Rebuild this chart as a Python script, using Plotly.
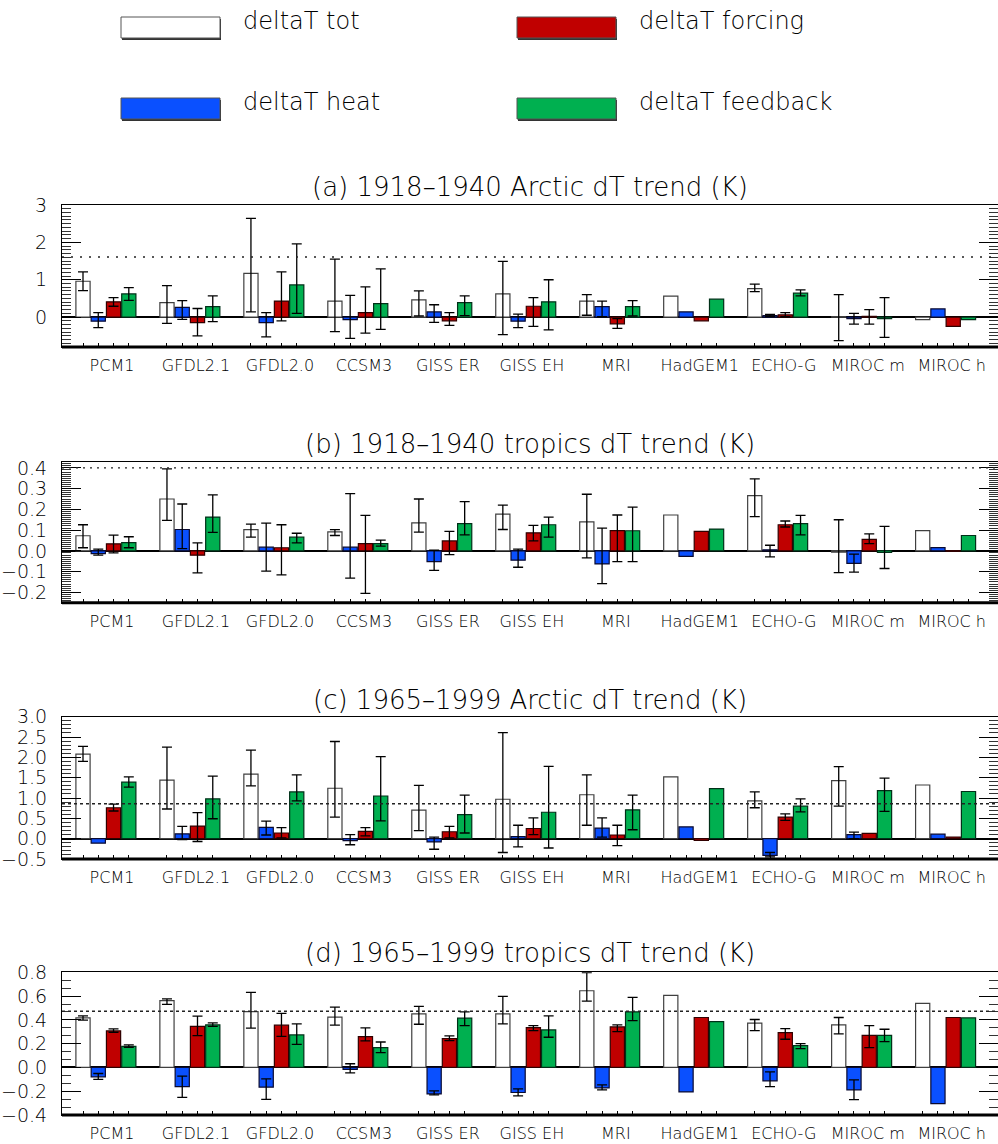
import plotly.graph_objects as go

# ---------------- data ----------------
models = ["PCM1", "GFDL2.1", "GFDL2.0", "CCSM3", "GISS ER", "GISS EH",
          "MRI", "HadGEM1", "ECHO-G", "MIROC m", "MIROC h"]
series_names = ["deltaT tot", "deltaT heat", "deltaT forcing", "deltaT feedback"]

# (a) 1918-1940 Arctic
a_tot = [0.96, 0.39, 1.17, 0.43, 0.46, 0.62, 0.43, 0.56, 0.76, 0.01, -0.07]
a_tot_hi = [1.21, 0.84, 2.64, 1.55, 0.70, 1.49, 0.60, None, 0.88, 0.60, None]
a_tot_lo = [0.71, -0.17, 0.14, -0.39, 0.03, -0.47, 0.05, None, 0.68, -0.63, None]
a_heat = [-0.11, 0.26, -0.15, -0.07, 0.14, -0.11, 0.28, 0.14, 0.04, -0.04, 0.22]
a_heat_hi = [0.12, 0.44, 0.12, 0.58, 0.33, 0.08, 0.43, None, 0.07, 0.10, None]
a_heat_lo = [-0.28, -0.06, -0.53, -0.57, -0.14, -0.28, 0.01, None, 0.02, -0.19, None]
a_forc = [0.41, -0.15, 0.43, 0.12, -0.10, 0.29, -0.18, -0.10, 0.06, 0.02, -0.25]
a_forc_hi = [0.52, 0.23, 1.21, 0.81, 0.12, 0.52, -0.04, None, 0.12, 0.20, None]
a_forc_lo = [0.29, -0.50, -0.10, -0.43, -0.22, -0.25, -0.30, None, 0.01, -0.19, None]
a_feed = [0.62, 0.28, 0.86, 0.36, 0.39, 0.41, 0.28, 0.48, 0.64, -0.04, -0.07]
a_feed_hi = [0.79, 0.57, 1.96, 1.29, 0.57, 1.00, 0.44, None, 0.73, 0.52, None]
a_feed_lo = [0.45, -0.12, 0.10, -0.33, 0.04, -0.34, 0.03, None, 0.57, -0.54, None]
a_ref = 1.61

# (b) 1918-1940 tropics
b_tot = [0.073, 0.25, 0.102, 0.092, 0.135, 0.177, 0.14, 0.173, 0.266, -0.006, 0.098]
b_tot_hi = [0.126, 0.395, 0.129, 0.102, 0.25, 0.221, 0.273, None, 0.347, 0.15, None]
b_tot_lo = [0.015, 0.147, 0.066, 0.074, 0.09, 0.103, -0.034, None, 0.165, -0.105, None]
b_heat = [-0.013, 0.103, 0.018, 0.018, -0.052, -0.045, -0.063, -0.027, 0.005, -0.06, 0.016]
b_heat_hi = [0.008, 0.226, 0.134, 0.276, 0.003, 0.008, 0.11, None, 0.027, -0.016, None]
b_heat_lo = [-0.021, 0.011, -0.098, -0.131, -0.094, -0.079, -0.158, None, -0.029, -0.103, None]
b_forc = [0.034, -0.021, 0.015, 0.035, 0.048, 0.087, 0.098, 0.094, 0.126, 0.055, -0.003]
b_forc_hi = [0.076, 0.039, 0.126, 0.171, 0.094, 0.123, 0.173, None, 0.144, 0.082, None]
b_forc_lo = [-0.01, -0.106, -0.116, -0.205, -0.018, 0.048, -0.052, None, 0.115, 0.035, None]
b_feed = [0.04, 0.163, 0.066, 0.035, 0.131, 0.126, 0.097, 0.105, 0.131, -0.008, 0.074]
b_feed_hi = [0.068, 0.27, 0.085, 0.052, 0.237, 0.163, 0.211, None, 0.171, 0.118, None]
b_feed_lo = [0.015, 0.089, 0.039, 0.023, 0.077, 0.066, -0.052, None, 0.077, -0.085, None]
b_ref = 0.40

# (c) 1965-1999 Arctic
c_tot = [2.08, 1.44, 1.59, 1.24, 0.70, 0.97, 1.08, 1.52, 0.93, 1.43, 1.32]
c_tot_hi = [2.27, 2.25, 2.18, 2.39, 1.31, 2.61, 1.57, None, 1.15, 1.77, None]
c_tot_lo = [1.90, 0.73, 1.30, 0.53, 0.20, -0.34, 0.33, None, 0.76, 0.80, None]
c_heat = [-0.11, 0.12, 0.28, -0.05, -0.08, 0.05, 0.26, 0.29, -0.41, 0.10, 0.11]
c_heat_hi = [None, 0.30, 0.43, 0.10, 0.04, 0.33, 0.51, None, -0.34, 0.16, None]
c_heat_lo = [None, -0.02, 0.09, -0.15, -0.26, -0.20, 0.04, None, -0.45, 0.0, None]
c_forc = [0.76, 0.31, 0.14, 0.18, 0.17, 0.25, 0.09, -0.04, 0.53, 0.13, 0.04]
c_forc_hi = [0.85, 0.64, 0.27, 0.27, 0.30, 0.51, 0.33, None, 0.61, None, None]
c_forc_lo = [0.68, -0.07, 0.02, 0.07, 0.02, 0.10, -0.17, None, 0.45, None, None]
c_feed = [1.39, 0.98, 1.15, 1.05, 0.59, 0.65, 0.71, 1.23, 0.80, 1.18, 1.16]
c_feed_hi = [1.52, 1.54, 1.57, 2.02, 1.07, 1.78, 1.07, None, 0.98, 1.49, None]
c_feed_lo = [1.27, 0.49, 0.93, 0.44, 0.14, -0.23, 0.22, None, 0.66, 0.67, None]
c_ref = 0.86

# (d) 1965-1999 tropics
d_tot = [0.417, 0.561, 0.47, 0.423, 0.451, 0.451, 0.645, 0.606, 0.372, 0.358, 0.538]
d_tot_hi = [0.434, 0.577, 0.631, 0.507, 0.513, 0.597, 0.797, None, 0.403, 0.42, None]
d_tot_lo = [0.397, 0.53, 0.33, 0.355, 0.363, 0.366, 0.558, None, 0.31, 0.282, None]
d_heat = [-0.079, -0.161, -0.166, -0.017, -0.223, -0.211, -0.172, -0.206, -0.113, -0.189, -0.304]
d_heat_hi = [-0.051, -0.073, -0.096, 0.031, -0.197, -0.18, -0.146, None, -0.037, -0.104, None]
d_heat_lo = [-0.101, -0.251, -0.268, -0.045, -0.231, -0.239, -0.189, None, -0.161, -0.27, None]
d_forc = [0.307, 0.346, 0.355, 0.259, 0.242, 0.335, 0.341, 0.42, 0.293, 0.27, 0.42]
d_forc_hi = [0.324, 0.431, 0.454, 0.332, 0.265, 0.352, 0.358, None, 0.327, 0.352, None]
d_forc_lo = [0.296, 0.268, 0.262, 0.223, 0.225, 0.31, 0.301, None, 0.237, 0.166, None]
d_feed = [0.177, 0.358, 0.273, 0.166, 0.414, 0.315, 0.468, 0.386, 0.183, 0.27, 0.417]
d_feed_hi = [0.189, 0.375, 0.366, 0.214, 0.468, 0.434, 0.589, None, 0.2, 0.321, None]
d_feed_lo = [0.169, 0.346, 0.194, 0.124, 0.352, 0.254, 0.394, None, 0.158, 0.217, None]
d_ref = 0.473

# ---------------- styling / layout ----------------
W, H = 998, 1144
FONT = "DejaVu Sans"
TXT = "#000000"
colors = ["#FFFFFF", "#0A50FF", "#C00000", "#00B050"]
outline = ["#404040", "#0a0a30", "#300000", "#003018"]

X0_PX, X1_PX = 62, 998
BAR0_PX, BAR_STEP_PX = 83.0, 15.267
x_range = [(X0_PX - BAR0_PX) / BAR_STEP_PX, (X1_PX - BAR0_PX) / BAR_STEP_PX]
GROUP = 5.5
LABEL_OFF = 1.9

panels = [
    dict(series=[(a_tot, a_tot_hi, a_tot_lo), (a_heat, a_heat_hi, a_heat_lo),
                 (a_forc, a_forc_hi, a_forc_lo), (a_feed, a_feed_hi, a_feed_lo)],
         ref=a_ref, top=205, bottom=347, rng=[-0.8, 3.0], dtick=1, minor=0.1,
         fmt="d", dash="2px,7px", title="(a) 1918–1940 Arctic dT trend (K)", ty=187),
    dict(series=[(b_tot, b_tot_hi, b_tot_lo), (b_heat, b_heat_hi, b_heat_lo),
                 (b_forc, b_forc_hi, b_forc_lo), (b_feed, b_feed_hi, b_feed_lo)],
         ref=b_ref, top=461.7, bottom=602.7, rng=[-0.25, 0.43], dtick=0.1, minor=0.01,
         fmt=".1f", dash="2px,5px", title="(b) 1918–1940 tropics dT trend (K)", ty=444),
    dict(series=[(c_tot, c_tot_hi, c_tot_lo), (c_heat, c_heat_hi, c_heat_lo),
                 (c_forc, c_forc_hi, c_forc_lo), (c_feed, c_feed_hi, c_feed_lo)],
         ref=c_ref, top=716.7, bottom=859, rng=[-0.5, 3.0], dtick=0.5, minor=0.1,
         fmt=".1f", dash="3px,3px", title="(c) 1965–1999 Arctic dT trend (K)", ty=700),
    dict(series=[(d_tot, d_tot_hi, d_tot_lo), (d_heat, d_heat_hi, d_heat_lo),
                 (d_forc, d_forc_hi, d_forc_lo), (d_feed, d_feed_hi, d_feed_lo)],
         ref=d_ref, top=972.3, bottom=1115, rng=[-0.4, 0.8], dtick=0.2, minor=0.2 / 3,
         fmt=".1f", dash="3px,3px", title="(d) 1965–1999 tropics dT trend (K)", ty=953),
]

fig = go.Figure()
layout = dict(width=W, height=H, margin=dict(l=0, r=0, t=0, b=0, pad=0), autosize=False,
              paper_bgcolor="white", plot_bgcolor="white", showlegend=False,
              barmode="overlay", font=dict(family=FONT, color=TXT, weight=200))
shapes, annotations = [], []

label_pos = [GROUP * k + LABEL_OFF for k in range(len(models))]
bar_ticks = [GROUP * k + j for k in range(len(models)) for j in range(4)]

for p_i, p in enumerate(panels):
    sfx = "" if p_i == 0 else str(p_i + 1)
    xa, ya = "x" + sfx, "y" + sfx
    for j, (vals, hi, lo) in enumerate(p["series"]):
        xs = [GROUP * k + j for k in range(len(models))]
        fig.add_trace(go.Bar(
            x=xs, y=vals, width=0.93, xaxis=xa, yaxis=ya, name=series_names[j],
            marker=dict(color=colors[j], line=dict(color=outline[j], width=1.2)),
        ))
        ex, ey, ep, em = [], [], [], []
        for k in range(len(models)):
            if hi[k] is not None:
                ex.append(xs[k]); ey.append(vals[k])
                ep.append(hi[k] - vals[k]); em.append(vals[k] - lo[k])
        fig.add_trace(go.Scatter(
            x=ex, y=ey, mode="markers", xaxis=xa, yaxis=ya,
            marker=dict(size=1, color="rgba(0,0,0,0)"), hoverinfo="skip",
            error_y=dict(type="data", symmetric=False, array=ep, arrayminus=em,
                         color="black", thickness=1.3, width=5),
        ))
    dom_y = [1 - p["bottom"] / H, 1 - p["top"] / H]
    layout["xaxis" + sfx] = dict(
        domain=[X0_PX / W, X1_PX / W], range=x_range, anchor=ya, automargin=False,
        showline=True, linecolor="black", linewidth=1, mirror=True,
        tickmode="array", tickvals=label_pos, ticktext=models,
        ticks="inside", ticklen=0, showgrid=False, zeroline=False,
        tickfont=dict(size=16, family=FONT, color=TXT), ticklabelstandoff=4,
        minor=dict(tickmode="array", tickvals=bar_ticks, ticks="inside", ticklen=4,
                   tickcolor="black", tickwidth=1, showgrid=False),
    )
    layout["yaxis" + sfx] = dict(
        domain=dom_y, range=p["rng"], anchor=xa, automargin=False,
        showline=True, linecolor="black", linewidth=1, mirror="allticks",
        ticks="inside", ticklen=19, tickwidth=1, tickcolor="black",
        tickmode="linear", tick0=0, dtick=p["dtick"], tickformat=p["fmt"],
        minor=dict(tickmode="linear", tick0=0, dtick=p["minor"], ticks="inside",
                   ticklen=9, tickwidth=1, tickcolor="#333333", showgrid=False),
        showgrid=False, zeroline=True, zerolinecolor="black", zerolinewidth=1.5,
        tickfont=dict(size=19, family=FONT, color=TXT), ticklabelstandoff=10,
    )
    # reference (dotted) level
    shapes.append(dict(type="line", xref=xa + " domain", yref=ya, x0=0, x1=1,
                       y0=p["ref"], y1=p["ref"],
                       line=dict(color="#222222", width=1.4, dash=p["dash"])))
    # thick bottom axis
    shapes.append(dict(type="line", xref=xa + " domain", yref=ya + " domain", x0=0, x1=1,
                       y0=0, y1=0, line=dict(color="black", width=3)))
    annotations.append(dict(text=p["title"], xref="paper", yref="paper",
                            x=(X0_PX + X1_PX) / 2 / W, y=1 - p["ty"] / H,
                            xanchor="center", yanchor="middle", showarrow=False,
                            font=dict(size=26, family=FONT, color=TXT)))

# legend (drawn in paper space)
leg = [(0, 121, 17), (2, 517, 17), (1, 121, 98), (3, 517, 98)]
for j, lx, ly in leg:
    bw, bh = 99, 21
    shapes.append(dict(type="rect", xref="paper", yref="paper",
                       x0=(lx + 1) / W, x1=(lx + bw + 1) / W,
                       y0=1 - (ly + bh + 2) / H, y1=1 - (ly + 2) / H,
                       fillcolor="#333333", line=dict(width=0)))
    shapes.append(dict(type="rect", xref="paper", yref="paper",
                       x0=lx / W, x1=(lx + bw) / W, y0=1 - (ly + bh) / H, y1=1 - ly / H,
                       fillcolor=colors[j], line=dict(color="#555555", width=1)))
    annotations.append(dict(text=series_names[j], xref="paper", yref="paper",
                            x=(lx + 120) / W, y=1 - (ly + 4) / H,
                            xanchor="left", yanchor="middle", showarrow=False,
                            font=dict(size=24, family=FONT, color=TXT)))

layout["shapes"] = shapes
layout["annotations"] = annotations
fig.update_layout(**layout)
fig.write_html("out.html", config={"displayModeBar": False, "responsive": False},
               post_script="document.body.style.margin='0';document.body.style.overflow='hidden';")
